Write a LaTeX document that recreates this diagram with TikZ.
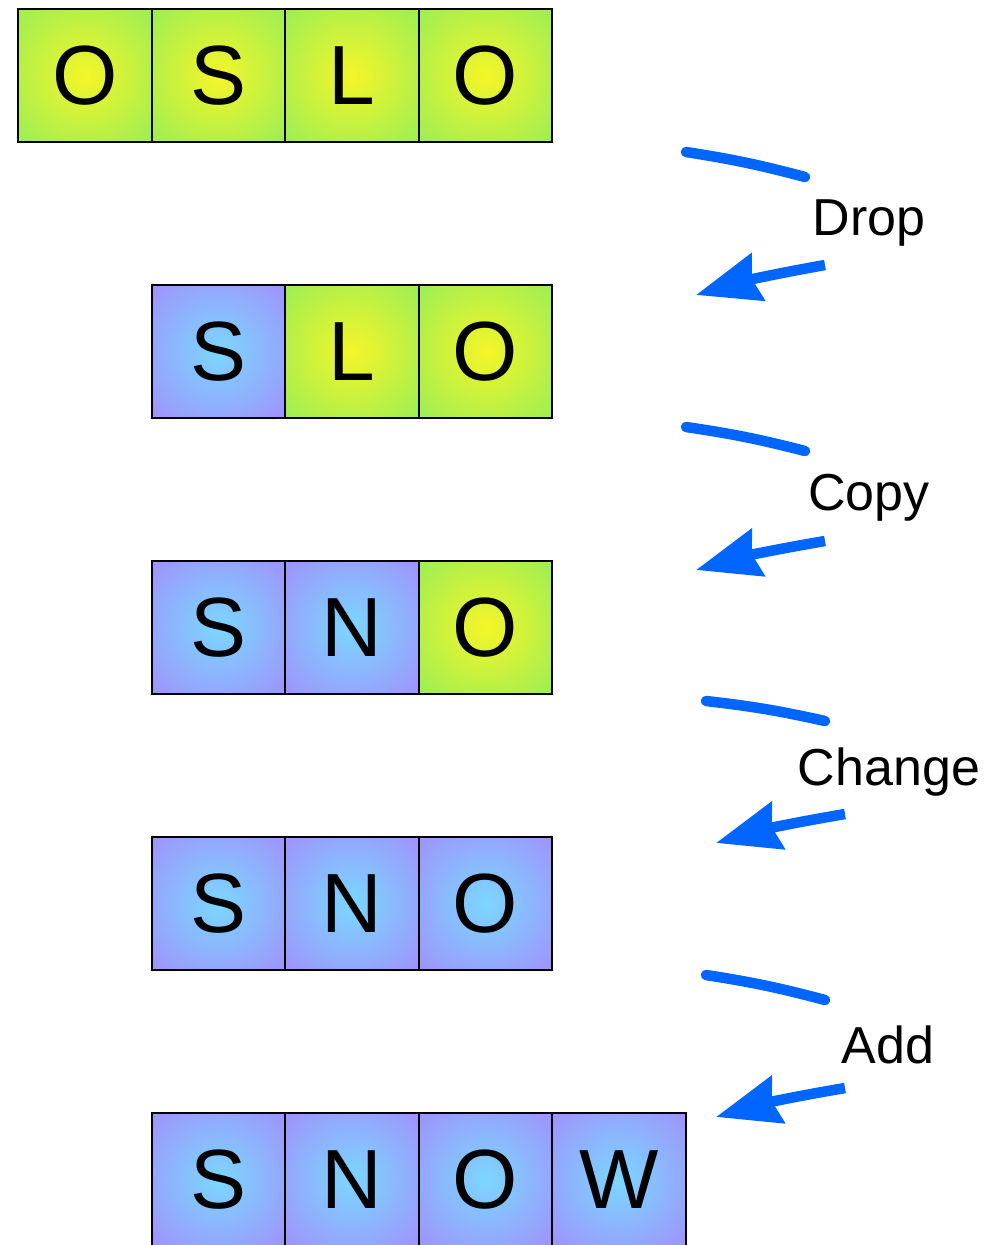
\documentclass[tikz,border=0pt]{standalone}
\usepackage{fontspec}
\setmainfont{Liberation Sans}
\usetikzlibrary{arrows.meta}
\definecolor{ginner}{RGB}{245,245,40}
\definecolor{gouter}{RGB}{128,236,98}
\definecolor{binner}{RGB}{122,215,255}
\definecolor{bouter}{RGB}{170,125,250}
\definecolor{arrowblue}{RGB}{0,102,255}
\pgfdeclareradialshading{greenrad}{\pgfpoint{0bp}{0bp}}{color(0bp)=(ginner); color(46bp)=(gouter); color(100bp)=(gouter)}
\pgfdeclareradialshading{bluerad}{\pgfpoint{0bp}{0bp}}{color(0bp)=(binner); color(46bp)=(bouter); color(100bp)=(bouter)}
\tikzset{
  cell/.style={draw=black, line width=2.3pt, minimum size=133.5pt, inner sep=0pt,
    font=\fontsize{84}{84}\selectfont},
  gcell/.style={cell, shading=greenrad},
  bcell/.style={cell, shading=bluerad},
  arrowpart/.style={draw=arrowblue, line width=10.5pt},
  lbl/.style={font=\fontsize{52}{52}\selectfont, inner sep=0pt}
}
\begin{document}
\begin{tikzpicture}[x=1pt,y=-1pt]
\useasboundingbox (0,0) rectangle (998,1245);
% row 1 OSLO
\node[gcell] (r1a) at (85,75.5) {O};
\node[gcell] (r1b) at (218.5,75.5) {S};
\node[gcell] (r1c) at (352,75.5) {L};
\node[gcell] (r1d) at (485.5,75.5) {O};
% row 2 SLO
\node[bcell] (r2a) at (218.5,351.5) {S};
\node[gcell] (r2b) at (352,351.5) {L};
\node[gcell] (r2c) at (485.5,351.5) {O};
% row 3 SNO
\node[bcell] (r3a) at (218.5,627.5) {S};
\node[bcell] (r3b) at (352,627.5) {N};
\node[gcell] (r3c) at (485.5,627.5) {O};
% row 4 SNO
\node[bcell] (r4a) at (218.5,903.5) {S};
\node[bcell] (r4b) at (352,903.5) {N};
\node[bcell] (r4c) at (485.5,903.5) {O};
% row 5 SNOW
\node[bcell] (r5a) at (218.5,1179.5) {S};
\node[bcell] (r5b) at (352,1179.5) {N};
\node[bcell] (r5c) at (485.5,1179.5) {O};
\node[bcell] (r5d) at (619,1179.5) {W};

% labels
\node[lbl] (l1) at (869,223) {Drop};
\node[lbl] (l2) at (869,498) {Copy};
\node[lbl] (l3) at (889,772) {Change};
\node[lbl] (l4) at (888,1045) {Add};

% arrow coordinates
\foreach \i/\xs/\ys/\xe/\ye/\xb/\yb/\xt/\yt in {
  1/686/152/805/177/825/265/696/295,
  2/686/427/805/451/825/541/696/570,
  3/706/701/825/721/845/814/716/843,
  4/706/975/825/1000/845/1088/716/1117}{
  \coordinate (s\i) at (\xs,\ys);
  \coordinate (e\i) at (\xe,\ye);
  \coordinate (b\i) at (\xb,\yb);
  \coordinate (t\i) at (\xt,\yt);
  \draw[arrowpart, line cap=round] (s\i) to[bend left=3] (e\i);
  \draw[arrowpart, -{Stealth[length=64pt, width=48pt, inset=6pt]}] (b\i) to[bend right=3] (t\i);
}
\end{tikzpicture}
\end{document}
